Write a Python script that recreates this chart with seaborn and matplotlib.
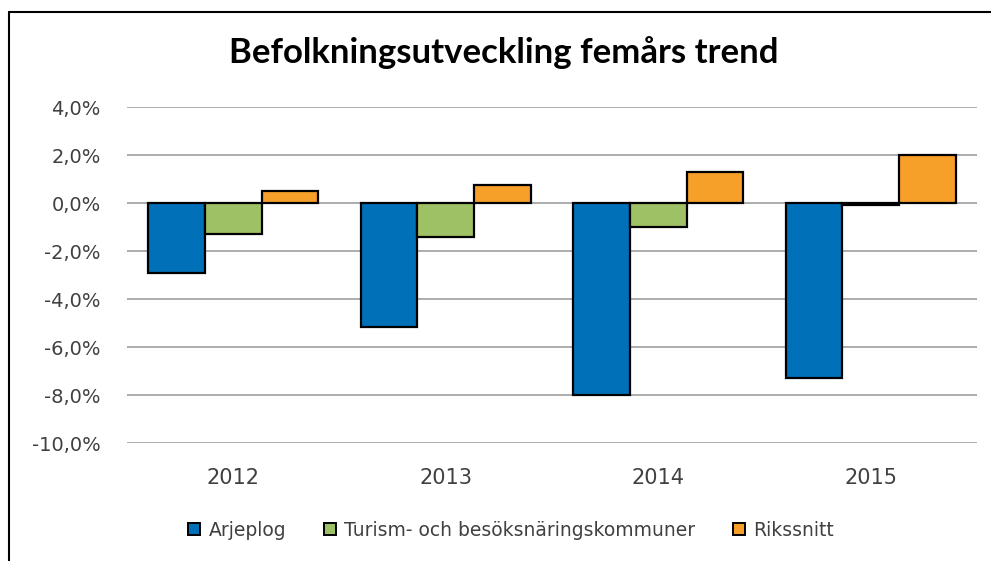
import matplotlib
matplotlib.use("Agg")
import matplotlib.pyplot as plt
import matplotlib.ticker as mticker
import matplotlib.lines as mlines
import seaborn as sns
import pandas as pd

years = ["2012", "2013", "2014", "2015"]
series_names = ["Arjeplog", "Turism- och besöksnäringskommuner", "Rikssnitt"]
arjeplog = [-2.9, -5.15, -8.0, -7.3]
turism = [-1.3, -1.4, -1.0, -0.1]
rikssnitt = [0.5, 0.75, 1.3, 2.0]
colors = ["#0070b8", "#9fc165", "#f6a02a"]
y_ticks = [4, 2, 0, -2, -4, -6, -8, -10]

df = pd.DataFrame({
    "År": years * 3,
    "Serie": [series_names[0]] * 4 + [series_names[1]] * 4 + [series_names[2]] * 4,
    "Värde": arjeplog + turism + rikssnitt,
})

sns.set_theme(style="white")
plt.rcParams["font.family"] = ["DejaVu Sans"]

fig = plt.figure(figsize=(9.91, 5.61), dpi=100)
ax = fig.add_axes([127 / 991, 118 / 561, 850 / 991, 336 / 561])

for t in y_ticks:
    ax.axhline(t, color="#a6a6a6", lw=1.3, zorder=0)

sns.barplot(data=df, x="År", y="Värde", hue="Serie", hue_order=series_names,
            palette=colors, order=years, width=0.8, edgecolor="black",
            linewidth=1.6, saturation=1, legend=False, ax=ax, zorder=2)

ax.set_ylim(-10, 4)
ax.set_xlim(-0.5, 3.5)
ax.set_yticks(y_ticks)
ax.yaxis.set_major_formatter(mticker.FuncFormatter(
    lambda v, _: f"{v:.1f}%".replace(".", ",")))
ax.tick_params(axis="y", labelsize=14, pad=19, length=0, colors="#404040")
ax.tick_params(axis="x", labelsize=15, pad=18, length=0, colors="#404040")
ax.set_xlabel("")
ax.set_ylabel("")
for s in ax.spines.values():
    s.set_visible(False)

fig.text(504 / 991, 1 - 53 / 561, "Befolkningsutveckling femårs trend",
         ha="center", va="center", fontsize=25, fontweight="bold",
         color="black", family=["Lato", "DejaVu Sans"])

handles = [mlines.Line2D([], [], marker="s", linestyle="none", markersize=8.5,
                         markerfacecolor=c, markeredgecolor="black",
                         markeredgewidth=1.4) for c in colors]
fig.legend(handles, series_names, loc="center", ncol=3, frameon=False,
           bbox_to_anchor=(510 / 991, 1 - 530 / 561), fontsize=13.5,
           columnspacing=1.9, handletextpad=0.3, handlelength=0.9,
           labelcolor="#404040")

# chart frame edges
fig.add_artist(mlines.Line2D([9 / 991, 1], [1 - 12 / 561, 1 - 12 / 561],
                             color="black", lw=1.5, transform=fig.transFigure))
fig.add_artist(mlines.Line2D([9 / 991, 9 / 991], [0, 1 - 12 / 561],
                             color="black", lw=1.5, transform=fig.transFigure))

fig.savefig("out.png", dpi=100)
